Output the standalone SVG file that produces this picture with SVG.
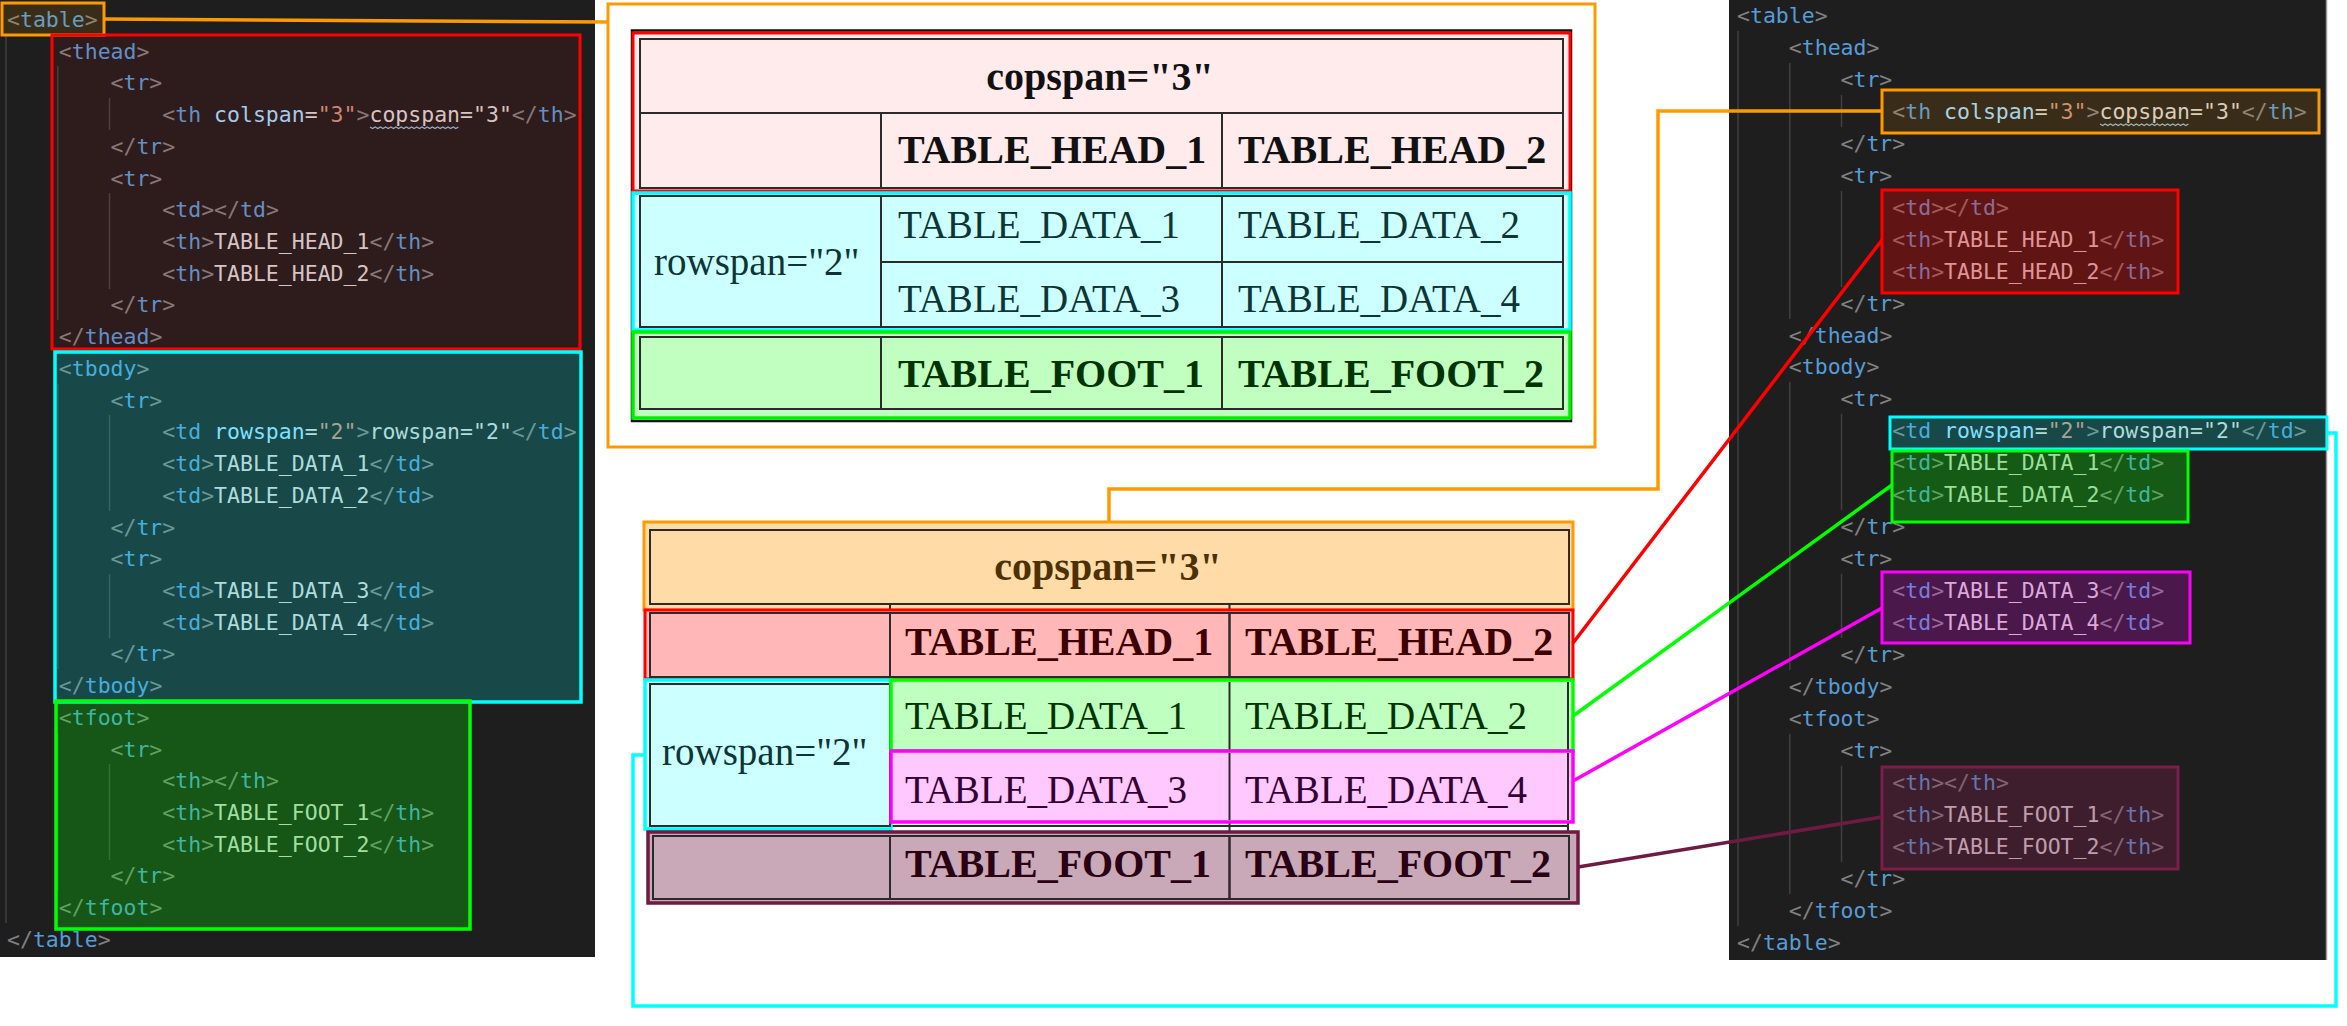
<svg xmlns="http://www.w3.org/2000/svg" width="2347" height="1026" viewBox="0 0 2347 1026">
<style>
.bg{fill:#1e1e1e}
.code{font-family:"DejaVu Sans Mono","Liberation Mono",monospace;font-size:21.5px;white-space:pre}
.p{fill:#808080}
.t{fill:#569cd6}
.a{fill:#9cdcfe}
.v{fill:#ce9178}
.x{fill:#d4d4d4}
.guide{stroke:#404040;stroke-width:1.5}
.sq{fill:none;stroke:#8fb8d8;stroke-width:1.2}
.serif{font-family:"Liberation Serif","Times New Roman",serif;font-size:39px}
.b{font-weight:bold;font-size:40px}
.cell{fill:none;stroke:#2b2b2b;stroke-width:2}
.conn{fill:none;stroke-width:3.5}
</style>
<rect width="2347" height="1026" fill="#ffffff"/>

<!-- LEFT CODE PANEL -->
<g id="left-panel">
<rect class="bg" x="0" y="0" width="595" height="957"/>
<g>
<line class="guide" x1="6" y1="35" x2="6" y2="923"/>
<line class="guide" x1="57.8" y1="66" x2="57.8" y2="320"/>
<line class="guide" x1="57.8" y1="384" x2="57.8" y2="669"/>
<line class="guide" x1="57.8" y1="733" x2="57.8" y2="891"/>
<line class="guide" x1="109.5" y1="98" x2="109.5" y2="130"/>
<line class="guide" x1="109.5" y1="193" x2="109.5" y2="289"/>
<line class="guide" x1="109.5" y1="415" x2="109.5" y2="511"/>
<line class="guide" x1="109.5" y1="574" x2="109.5" y2="638"/>
<line class="guide" x1="109.5" y1="764" x2="109.5" y2="860"/>
</g>
<text class="code" x="7" y="27"><tspan class="p">&lt;</tspan><tspan class="t">table</tspan><tspan class="p">&gt;</tspan></text>
<text class="code" x="58.8" y="58.72"><tspan class="p">&lt;</tspan><tspan class="t">thead</tspan><tspan class="p">&gt;</tspan></text>
<text class="code" x="110.5" y="90.44"><tspan class="p">&lt;</tspan><tspan class="t">tr</tspan><tspan class="p">&gt;</tspan></text>
<text class="code" x="162.3" y="122.16"><tspan class="p">&lt;</tspan><tspan class="t">th</tspan><tspan class="a"> colspan</tspan><tspan class="x">=</tspan><tspan class="v">"3"</tspan><tspan class="p">&gt;</tspan><tspan class="x">copspan="3"</tspan><tspan class="p">&lt;/</tspan><tspan class="t">th</tspan><tspan class="p">&gt;</tspan></text>
<path class="sq" d="M370,127 l2.6,1.6 2.6,-1.6 2.6,1.6 2.6,-1.6 2.6,1.6 2.6,-1.6 2.6,1.6 2.6,-1.6 2.6,1.6 2.6,-1.6 2.6,1.6 2.6,-1.6 2.6,1.6 2.6,-1.6 2.6,1.6 2.6,-1.6 2.6,1.6 2.6,-1.6 2.6,1.6 2.6,-1.6 2.6,1.6 2.6,-1.6 2.6,1.6 2.6,-1.6 2.6,1.6 2.6,-1.6 2.6,1.6 2.6,-1.6 2.6,1.6 2.6,-1.6 2.6,1.6 2.6,-1.6 2.6,1.6 2.6,-1.6"/>
<text class="code" x="110.5" y="153.88"><tspan class="p">&lt;/</tspan><tspan class="t">tr</tspan><tspan class="p">&gt;</tspan></text>
<text class="code" x="110.5" y="185.6"><tspan class="p">&lt;</tspan><tspan class="t">tr</tspan><tspan class="p">&gt;</tspan></text>
<text class="code" x="162.3" y="217.32"><tspan class="p">&lt;</tspan><tspan class="t">td</tspan><tspan class="p">&gt;&lt;/</tspan><tspan class="t">td</tspan><tspan class="p">&gt;</tspan></text>
<text class="code" x="162.3" y="249.04"><tspan class="p">&lt;</tspan><tspan class="t">th</tspan><tspan class="p">&gt;</tspan><tspan class="x">TABLE_HEAD_1</tspan><tspan class="p">&lt;/</tspan><tspan class="t">th</tspan><tspan class="p">&gt;</tspan></text>
<text class="code" x="162.3" y="280.76"><tspan class="p">&lt;</tspan><tspan class="t">th</tspan><tspan class="p">&gt;</tspan><tspan class="x">TABLE_HEAD_2</tspan><tspan class="p">&lt;/</tspan><tspan class="t">th</tspan><tspan class="p">&gt;</tspan></text>
<text class="code" x="110.5" y="312.48"><tspan class="p">&lt;/</tspan><tspan class="t">tr</tspan><tspan class="p">&gt;</tspan></text>
<text class="code" x="58.8" y="344.2"><tspan class="p">&lt;/</tspan><tspan class="t">thead</tspan><tspan class="p">&gt;</tspan></text>
<text class="code" x="58.8" y="375.92"><tspan class="p">&lt;</tspan><tspan class="t">tbody</tspan><tspan class="p">&gt;</tspan></text>
<text class="code" x="110.5" y="407.64"><tspan class="p">&lt;</tspan><tspan class="t">tr</tspan><tspan class="p">&gt;</tspan></text>
<text class="code" x="162.3" y="439.36"><tspan class="p">&lt;</tspan><tspan class="t">td</tspan><tspan class="a"> rowspan</tspan><tspan class="x">=</tspan><tspan class="v">"2"</tspan><tspan class="p">&gt;</tspan><tspan class="x">rowspan="2"</tspan><tspan class="p">&lt;/</tspan><tspan class="t">td</tspan><tspan class="p">&gt;</tspan></text>
<text class="code" x="162.3" y="471.08"><tspan class="p">&lt;</tspan><tspan class="t">td</tspan><tspan class="p">&gt;</tspan><tspan class="x">TABLE_DATA_1</tspan><tspan class="p">&lt;/</tspan><tspan class="t">td</tspan><tspan class="p">&gt;</tspan></text>
<text class="code" x="162.3" y="502.8"><tspan class="p">&lt;</tspan><tspan class="t">td</tspan><tspan class="p">&gt;</tspan><tspan class="x">TABLE_DATA_2</tspan><tspan class="p">&lt;/</tspan><tspan class="t">td</tspan><tspan class="p">&gt;</tspan></text>
<text class="code" x="110.5" y="534.52"><tspan class="p">&lt;/</tspan><tspan class="t">tr</tspan><tspan class="p">&gt;</tspan></text>
<text class="code" x="110.5" y="566.24"><tspan class="p">&lt;</tspan><tspan class="t">tr</tspan><tspan class="p">&gt;</tspan></text>
<text class="code" x="162.3" y="597.96"><tspan class="p">&lt;</tspan><tspan class="t">td</tspan><tspan class="p">&gt;</tspan><tspan class="x">TABLE_DATA_3</tspan><tspan class="p">&lt;/</tspan><tspan class="t">td</tspan><tspan class="p">&gt;</tspan></text>
<text class="code" x="162.3" y="629.68"><tspan class="p">&lt;</tspan><tspan class="t">td</tspan><tspan class="p">&gt;</tspan><tspan class="x">TABLE_DATA_4</tspan><tspan class="p">&lt;/</tspan><tspan class="t">td</tspan><tspan class="p">&gt;</tspan></text>
<text class="code" x="110.5" y="661.4"><tspan class="p">&lt;/</tspan><tspan class="t">tr</tspan><tspan class="p">&gt;</tspan></text>
<text class="code" x="58.8" y="693.12"><tspan class="p">&lt;/</tspan><tspan class="t">tbody</tspan><tspan class="p">&gt;</tspan></text>
<text class="code" x="58.8" y="724.84"><tspan class="p">&lt;</tspan><tspan class="t">tfoot</tspan><tspan class="p">&gt;</tspan></text>
<text class="code" x="110.5" y="756.56"><tspan class="p">&lt;</tspan><tspan class="t">tr</tspan><tspan class="p">&gt;</tspan></text>
<text class="code" x="162.3" y="788.28"><tspan class="p">&lt;</tspan><tspan class="t">th</tspan><tspan class="p">&gt;&lt;/</tspan><tspan class="t">th</tspan><tspan class="p">&gt;</tspan></text>
<text class="code" x="162.3" y="820"><tspan class="p">&lt;</tspan><tspan class="t">th</tspan><tspan class="p">&gt;</tspan><tspan class="x">TABLE_FOOT_1</tspan><tspan class="p">&lt;/</tspan><tspan class="t">th</tspan><tspan class="p">&gt;</tspan></text>
<text class="code" x="162.3" y="851.72"><tspan class="p">&lt;</tspan><tspan class="t">th</tspan><tspan class="p">&gt;</tspan><tspan class="x">TABLE_FOOT_2</tspan><tspan class="p">&lt;/</tspan><tspan class="t">th</tspan><tspan class="p">&gt;</tspan></text>
<text class="code" x="110.5" y="883.44"><tspan class="p">&lt;/</tspan><tspan class="t">tr</tspan><tspan class="p">&gt;</tspan></text>
<text class="code" x="58.8" y="915.16"><tspan class="p">&lt;/</tspan><tspan class="t">tfoot</tspan><tspan class="p">&gt;</tspan></text>
<text class="code" x="7" y="946.88"><tspan class="p">&lt;/</tspan><tspan class="t">table</tspan><tspan class="p">&gt;</tspan></text>
</g>
<g id="l-table"><rect x="2" y="3" width="102" height="32" fill="#ff9900" fill-opacity="0.12" stroke="#ff9900" stroke-width="3"/></g>
<g id="l-thead"><rect x="52" y="35" width="528" height="314" fill="#ff0000" fill-opacity="0.075" stroke="#ff0000" stroke-width="3"/></g>
<g id="l-tbody"><rect x="55" y="352" width="526" height="350" fill="#00ffff" fill-opacity="0.19" stroke="#00ffff" stroke-width="3.5"/></g>
<g id="l-tfoot"><rect x="56" y="701" width="414" height="228" fill="#00ff00" fill-opacity="0.25" stroke="#00ff00" stroke-width="3.5"/></g>

<!-- RIGHT CODE PANEL -->
<g id="right-panel">
<rect class="bg" x="1729" y="0" width="597" height="960"/>
<line x1="2326.5" y1="0" x2="2326.5" y2="960" stroke="#9a9a9a" stroke-width="1.5"/>
<g>
<line class="guide" x1="1738" y1="31" x2="1738" y2="926"/>
<line class="guide" x1="1789.8" y1="63" x2="1789.8" y2="319"/>
<line class="guide" x1="1789.8" y1="382" x2="1789.8" y2="670"/>
<line class="guide" x1="1789.8" y1="734" x2="1789.8" y2="894"/>
<line class="guide" x1="1841.5" y1="95" x2="1841.5" y2="127"/>
<line class="guide" x1="1841.5" y1="191" x2="1841.5" y2="287"/>
<line class="guide" x1="1841.5" y1="414" x2="1841.5" y2="510"/>
<line class="guide" x1="1841.5" y1="574" x2="1841.5" y2="638"/>
<line class="guide" x1="1841.5" y1="766" x2="1841.5" y2="862"/>
</g>
<text class="code" x="1737" y="23"><tspan class="p">&lt;</tspan><tspan class="t">table</tspan><tspan class="p">&gt;</tspan></text>
<text class="code" x="1788.8" y="54.95"><tspan class="p">&lt;</tspan><tspan class="t">thead</tspan><tspan class="p">&gt;</tspan></text>
<text class="code" x="1840.5" y="86.9"><tspan class="p">&lt;</tspan><tspan class="t">tr</tspan><tspan class="p">&gt;</tspan></text>
<text class="code" x="1892.3" y="118.85"><tspan class="p">&lt;</tspan><tspan class="t">th</tspan><tspan class="a"> colspan</tspan><tspan class="x">=</tspan><tspan class="v">"3"</tspan><tspan class="p">&gt;</tspan><tspan class="x">copspan="3"</tspan><tspan class="p">&lt;/</tspan><tspan class="t">th</tspan><tspan class="p">&gt;</tspan></text>
<path class="sq" d="M2100,124 l2.6,1.6 2.6,-1.6 2.6,1.6 2.6,-1.6 2.6,1.6 2.6,-1.6 2.6,1.6 2.6,-1.6 2.6,1.6 2.6,-1.6 2.6,1.6 2.6,-1.6 2.6,1.6 2.6,-1.6 2.6,1.6 2.6,-1.6 2.6,1.6 2.6,-1.6 2.6,1.6 2.6,-1.6 2.6,1.6 2.6,-1.6 2.6,1.6 2.6,-1.6 2.6,1.6 2.6,-1.6 2.6,1.6 2.6,-1.6 2.6,1.6 2.6,-1.6 2.6,1.6 2.6,-1.6 2.6,1.6 2.6,-1.6"/>
<text class="code" x="1840.5" y="150.8"><tspan class="p">&lt;/</tspan><tspan class="t">tr</tspan><tspan class="p">&gt;</tspan></text>
<text class="code" x="1840.5" y="182.75"><tspan class="p">&lt;</tspan><tspan class="t">tr</tspan><tspan class="p">&gt;</tspan></text>
<text class="code" x="1892.3" y="214.7"><tspan class="p">&lt;</tspan><tspan class="t">td</tspan><tspan class="p">&gt;&lt;/</tspan><tspan class="t">td</tspan><tspan class="p">&gt;</tspan></text>
<text class="code" x="1892.3" y="246.65"><tspan class="p">&lt;</tspan><tspan class="t">th</tspan><tspan class="p">&gt;</tspan><tspan class="x">TABLE_HEAD_1</tspan><tspan class="p">&lt;/</tspan><tspan class="t">th</tspan><tspan class="p">&gt;</tspan></text>
<text class="code" x="1892.3" y="278.6"><tspan class="p">&lt;</tspan><tspan class="t">th</tspan><tspan class="p">&gt;</tspan><tspan class="x">TABLE_HEAD_2</tspan><tspan class="p">&lt;/</tspan><tspan class="t">th</tspan><tspan class="p">&gt;</tspan></text>
<text class="code" x="1840.5" y="310.55"><tspan class="p">&lt;/</tspan><tspan class="t">tr</tspan><tspan class="p">&gt;</tspan></text>
<text class="code" x="1788.8" y="342.5"><tspan class="p">&lt;/</tspan><tspan class="t">thead</tspan><tspan class="p">&gt;</tspan></text>
<text class="code" x="1788.8" y="374.45"><tspan class="p">&lt;</tspan><tspan class="t">tbody</tspan><tspan class="p">&gt;</tspan></text>
<text class="code" x="1840.5" y="406.4"><tspan class="p">&lt;</tspan><tspan class="t">tr</tspan><tspan class="p">&gt;</tspan></text>
<text class="code" x="1892.3" y="438.35"><tspan class="p">&lt;</tspan><tspan class="t">td</tspan><tspan class="a"> rowspan</tspan><tspan class="x">=</tspan><tspan class="v">"2"</tspan><tspan class="p">&gt;</tspan><tspan class="x">rowspan="2"</tspan><tspan class="p">&lt;/</tspan><tspan class="t">td</tspan><tspan class="p">&gt;</tspan></text>
<text class="code" x="1892.3" y="470.3"><tspan class="p">&lt;</tspan><tspan class="t">td</tspan><tspan class="p">&gt;</tspan><tspan class="x">TABLE_DATA_1</tspan><tspan class="p">&lt;/</tspan><tspan class="t">td</tspan><tspan class="p">&gt;</tspan></text>
<text class="code" x="1892.3" y="502.25"><tspan class="p">&lt;</tspan><tspan class="t">td</tspan><tspan class="p">&gt;</tspan><tspan class="x">TABLE_DATA_2</tspan><tspan class="p">&lt;/</tspan><tspan class="t">td</tspan><tspan class="p">&gt;</tspan></text>
<text class="code" x="1840.5" y="534.2"><tspan class="p">&lt;/</tspan><tspan class="t">tr</tspan><tspan class="p">&gt;</tspan></text>
<text class="code" x="1840.5" y="566.15"><tspan class="p">&lt;</tspan><tspan class="t">tr</tspan><tspan class="p">&gt;</tspan></text>
<text class="code" x="1892.3" y="598.1"><tspan class="p">&lt;</tspan><tspan class="t">td</tspan><tspan class="p">&gt;</tspan><tspan class="x">TABLE_DATA_3</tspan><tspan class="p">&lt;/</tspan><tspan class="t">td</tspan><tspan class="p">&gt;</tspan></text>
<text class="code" x="1892.3" y="630.05"><tspan class="p">&lt;</tspan><tspan class="t">td</tspan><tspan class="p">&gt;</tspan><tspan class="x">TABLE_DATA_4</tspan><tspan class="p">&lt;/</tspan><tspan class="t">td</tspan><tspan class="p">&gt;</tspan></text>
<text class="code" x="1840.5" y="662"><tspan class="p">&lt;/</tspan><tspan class="t">tr</tspan><tspan class="p">&gt;</tspan></text>
<text class="code" x="1788.8" y="693.95"><tspan class="p">&lt;/</tspan><tspan class="t">tbody</tspan><tspan class="p">&gt;</tspan></text>
<text class="code" x="1788.8" y="725.9"><tspan class="p">&lt;</tspan><tspan class="t">tfoot</tspan><tspan class="p">&gt;</tspan></text>
<text class="code" x="1840.5" y="757.85"><tspan class="p">&lt;</tspan><tspan class="t">tr</tspan><tspan class="p">&gt;</tspan></text>
<text class="code" x="1892.3" y="789.8"><tspan class="p">&lt;</tspan><tspan class="t">th</tspan><tspan class="p">&gt;&lt;/</tspan><tspan class="t">th</tspan><tspan class="p">&gt;</tspan></text>
<text class="code" x="1892.3" y="821.75"><tspan class="p">&lt;</tspan><tspan class="t">th</tspan><tspan class="p">&gt;</tspan><tspan class="x">TABLE_FOOT_1</tspan><tspan class="p">&lt;/</tspan><tspan class="t">th</tspan><tspan class="p">&gt;</tspan></text>
<text class="code" x="1892.3" y="853.7"><tspan class="p">&lt;</tspan><tspan class="t">th</tspan><tspan class="p">&gt;</tspan><tspan class="x">TABLE_FOOT_2</tspan><tspan class="p">&lt;/</tspan><tspan class="t">th</tspan><tspan class="p">&gt;</tspan></text>
<text class="code" x="1840.5" y="885.65"><tspan class="p">&lt;/</tspan><tspan class="t">tr</tspan><tspan class="p">&gt;</tspan></text>
<text class="code" x="1788.8" y="917.6"><tspan class="p">&lt;/</tspan><tspan class="t">tfoot</tspan><tspan class="p">&gt;</tspan></text>
<text class="code" x="1737" y="949.55"><tspan class="p">&lt;/</tspan><tspan class="t">table</tspan><tspan class="p">&gt;</tspan></text>
</g>
<g id="r-colspan"><rect x="1882" y="90" width="437" height="43" fill="#ff9900" fill-opacity="0.12" stroke="#ff9900" stroke-width="3"/></g>
<g id="r-head"><rect x="1882" y="190" width="296" height="103" fill="#ff0000" fill-opacity="0.3" stroke="#ff0000" stroke-width="3"/></g>
<g id="r-rowspan"><rect x="1890" y="417" width="437" height="32" fill="#00ffff" fill-opacity="0.19" stroke="#00ffff" stroke-width="3"/></g>
<g id="r-data12"><rect x="1892" y="451" width="296" height="71" fill="#00ff00" fill-opacity="0.27" stroke="#00ff00" stroke-width="3"/></g>
<g id="r-data34"><rect x="1882" y="572" width="308" height="71" fill="#ff00ff" fill-opacity="0.2" stroke="#ff00ff" stroke-width="3"/></g>
<g id="r-foot"><rect x="1882" y="767" width="296" height="102" fill="#8c1e50" fill-opacity="0.3" stroke="#7a1f48" stroke-width="3"/></g>

<!-- TOP RENDERED TABLE -->
<g id="top-table">
<rect x="608" y="4" width="987" height="443" fill="#ffffff" stroke="#ff9900" stroke-width="3"/>
<rect x="632" y="30.5" width="939" height="390.5" fill="none" stroke="#111" stroke-width="2.5"/>
<rect x="633" y="33" width="937" height="158" fill="#ffebeb" stroke="#ff0000" stroke-width="3"/>
<rect class="cell" x="640" y="39" width="923" height="74"/>
<rect class="cell" x="640" y="113" width="241" height="75"/>
<rect class="cell" x="881" y="113" width="341" height="75"/>
<rect class="cell" x="1222" y="113" width="341" height="75"/>
<rect x="633" y="193" width="937" height="137" fill="#ccffff" stroke="#00ffff" stroke-width="3.5"/>
<rect class="cell" x="640" y="196" width="241" height="131"/>
<rect class="cell" x="881" y="196" width="341" height="66"/>
<rect class="cell" x="1222" y="196" width="341" height="66"/>
<rect class="cell" x="881" y="262" width="341" height="65"/>
<rect class="cell" x="1222" y="262" width="341" height="65"/>
<rect x="633" y="332" width="937" height="86" fill="#c0ffc0" stroke="#00ee00" stroke-width="3.5"/>
<rect class="cell" x="640" y="337" width="241" height="72"/>
<rect class="cell" x="881" y="337" width="341" height="72"/>
<rect class="cell" x="1222" y="337" width="341" height="72"/>
<text class="serif b" x="1100" y="90" text-anchor="middle" fill="#111">copspan="3"</text>
<text class="serif b" x="898" y="163" fill="#111">TABLE_HEAD_1</text>
<text class="serif b" x="1238" y="163" fill="#111">TABLE_HEAD_2</text>
<text class="serif" x="654" y="275" fill="#0d3535">rowspan="2"</text>
<text class="serif" x="898" y="238" fill="#0d3535">TABLE_DATA_1</text>
<text class="serif" x="1238" y="238" fill="#0d3535">TABLE_DATA_2</text>
<text class="serif" x="898" y="312" fill="#0d3535">TABLE_DATA_3</text>
<text class="serif" x="1238" y="312" fill="#0d3535">TABLE_DATA_4</text>
<text class="serif b" x="898" y="387" fill="#003300">TABLE_FOOT_1</text>
<text class="serif b" x="1238" y="387" fill="#003300">TABLE_FOOT_2</text>
</g>

<!-- BOTTOM RENDERED TABLE -->
<g id="bottom-table">
<g id="b-colspan">
<rect x="644" y="522" width="929" height="88" fill="#ffdba8" stroke="#ff9900" stroke-width="3"/>
<rect class="cell" x="650" y="530" width="919" height="74" stroke="#5a4020"/>
<line x1="890" y1="604" x2="890" y2="612" stroke="#2b2b2b" stroke-width="2"/>
<line x1="1229.5" y1="604" x2="1229.5" y2="612" stroke="#2b2b2b" stroke-width="2"/>
<text class="serif b" x="1108" y="580" text-anchor="middle" fill="#4d3100">copspan="3"</text>
</g>
<g id="b-head">
<rect x="645" y="610" width="928" height="69" fill="#ffb7b7" stroke="#ff0000" stroke-width="3"/>
<rect class="cell" x="650" y="613" width="240" height="64"/>
<rect class="cell" x="890" y="613" width="339.5" height="64"/>
<rect class="cell" x="1229.5" y="613" width="339.5" height="64"/>
<text class="serif b" x="905" y="655" fill="#3c0000">TABLE_HEAD_1</text>
<text class="serif b" x="1245" y="655" fill="#3c0000">TABLE_HEAD_2</text>
</g>
<g id="b-strip">
<rect x="650" y="822" width="919" height="10" fill="#ffffff"/>
<line x1="890" y1="822" x2="890" y2="834" stroke="#2b2b2b" stroke-width="2"/>
<line x1="1229.5" y1="822" x2="1229.5" y2="834" stroke="#2b2b2b" stroke-width="2"/>
<line x1="1568" y1="822" x2="1568" y2="834" stroke="#2b2b2b" stroke-width="2"/>
<line x1="890" y1="826" x2="1569" y2="826" stroke="#2b2b2b" stroke-width="2"/>
</g>
<g id="b-rowspan">
<rect x="645" y="680" width="246" height="149" fill="#ccffff" stroke="#00ffff" stroke-width="3.5"/>
<rect class="cell" x="650" y="684" width="240" height="142"/>
<text class="serif" x="662" y="765" fill="#0d3535">rowspan="2"</text>
</g>
<g id="b-data12">
<rect x="891" y="680" width="682" height="71" fill="#bfffbf" stroke="#00ff00" stroke-width="3.5"/>
<line x1="1229.5" y1="682" x2="1229.5" y2="750" stroke="#2b2b2b" stroke-width="2"/>
<line x1="1568" y1="682" x2="1568" y2="750" stroke="#2b2b2b" stroke-width="2"/>
<text class="serif" x="905" y="729" fill="#003300">TABLE_DATA_1</text>
<text class="serif" x="1245" y="729" fill="#003300">TABLE_DATA_2</text>
</g>
<g id="b-data34">
<rect x="891" y="751" width="682" height="71" fill="#ffc8ff" stroke="#ff00ff" stroke-width="3.5"/>
<line x1="1229.5" y1="753" x2="1229.5" y2="820" stroke="#2b2b2b" stroke-width="2"/>
<line x1="1568" y1="753" x2="1568" y2="820" stroke="#2b2b2b" stroke-width="2"/>
<text class="serif" x="905" y="803" fill="#330033">TABLE_DATA_3</text>
<text class="serif" x="1245" y="803" fill="#330033">TABLE_DATA_4</text>
</g>
<g id="b-foot">
<rect x="648" y="832" width="930" height="71" fill="#c9a8b8" stroke="#6e1a42" stroke-width="3.5"/>
<rect class="cell" x="653" y="836" width="237" height="63"/>
<rect class="cell" x="890" y="836" width="339.5" height="63"/>
<rect class="cell" x="1229.5" y="836" width="339.5" height="63"/>
<text class="serif b" x="905" y="877" fill="#2a0012">TABLE_FOOT_1</text>
<text class="serif b" x="1245" y="877" fill="#2a0012">TABLE_FOOT_2</text>
</g>
</g>

<!-- CONNECTORS -->
<g id="connectors">
<polyline class="conn" stroke="#ff9900" stroke-width="3" points="104,19 608,22"/>
<polyline class="conn" stroke="#ff9900" stroke-width="3" points="1882,111 1658,111 1658,489 1109,489 1109,522"/>
<line class="conn" stroke="#ff0000" x1="1573" y1="643" x2="1882" y2="240"/>
<line class="conn" stroke="#00ff00" x1="1573" y1="716" x2="1892" y2="485"/>
<line class="conn" stroke="#ff00ff" x1="1573" y1="781" x2="1882" y2="608"/>
<line class="conn" stroke="#6e1a42" stroke-width="4" x1="1578" y1="867" x2="1882" y2="817"/>
<polyline class="conn" stroke="#00ffff" points="2327,433 2336,433 2336,1006 633,1006 633,755 645,755"/>
</g>
</svg>
